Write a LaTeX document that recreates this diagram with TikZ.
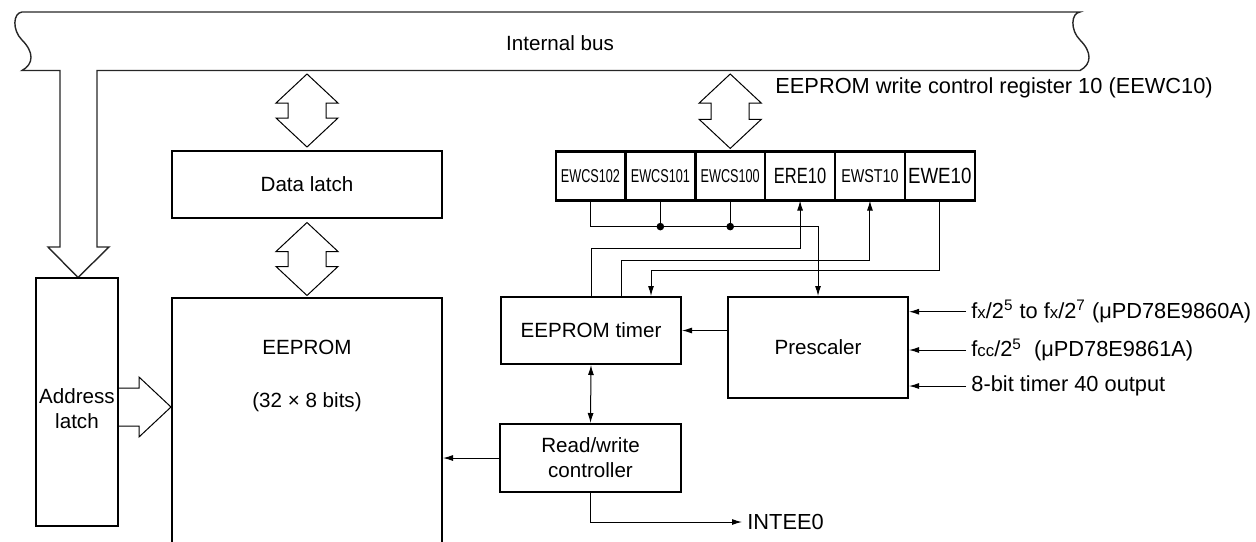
\documentclass[tikz,border=0pt]{standalone}
\usepackage{fontspec}
\setmainfont{Liberation Sans}
\usepackage{graphicx}
\usetikzlibrary{arrows.meta,positioning,calc}

\newcommand{\regtxt}[3]{\fontsize{#2}{#2}\selectfont\scalebox{#1}[1]{#3}}
\newcommand{\smallx}[1]{{\fontsize{8.4}{9}\selectfont #1}}
% hollow two-way bus arrow between two tips
\newcommand{\busarrow}[2]{%
  \draw[hollow] (#1) -- ($(#1)+(-31,29)$) -- ($(#1)+(-19,29)$) -- ($(#2)+(-19,-29)$)
    -- ($(#2)+(-31,-29)$) -- (#2) -- ($(#2)+(31,-29)$) -- ($(#2)+(19,-29)$)
    -- ($(#1)+(19,29)$) -- ($(#1)+(31,29)$) -- cycle;}

\begin{document}
\begin{tikzpicture}[x=0.5pt, y=-0.5pt,
    font=\fontsize{10.3}{12.4}\selectfont,
    block/.style={rectangle, draw, line width=1pt, inner sep=0pt, align=center},
    cell/.style={rectangle, draw, line width=0.6pt, minimum width=34.33pt, minimum height=24pt, inner sep=0pt},
    line/.style={draw, -{Latex[length=5pt,width=3pt]}, line width=0.5pt},
    wire/.style={draw, line width=0.5pt},
    hollow/.style={draw, line width=0.5pt},
    tag/.style={inner sep=0pt, anchor=west, font=\fontsize{10.9}{13}\selectfont}
]
\useasboundingbox (0,0) rectangle (1256,541);
\clip (0,0) rectangle (1256,541);

% internal bus with the address path
\draw[line width=0.7pt, black!85] (22,12) -- (1080,12)
  .. controls (1071,13) and (1070,30) .. (1080,40)
  .. controls (1092,52) and (1092,64) .. (1080,70.5)
  -- (97,70.5) -- (97,247) -- (109,247) -- (78,277.5) -- (48,247) -- (60,247) -- (60,70.5) -- (22,70.5)
  .. controls (34,64) and (34,52) .. (22,40)
  .. controls (12,30) and (13,13) .. (22,12) -- cycle;
\coordinate (busb) at (0,70.5);
\node (bus) at (560,43) {Internal bus};

% blocks
\node[block, minimum width=41pt, minimum height=124pt] (addr) at (77,402) {};
\node[align=center] (addrtxt) at (77,409) {Address\\latch};
\node[block, minimum width=135pt, minimum height=33.5pt] (dl) at (307,184.5) {Data latch};
\node[block, minimum width=135pt, minimum height=151.25pt] (eep) at (307,448.75) {};
\node[align=center] (eeptxt) at (307,376) {EEPROM\\[14pt](32 × 8 bits)};
\node[block, minimum width=90pt, minimum height=33.5pt] (tim) at (591,330.5) {EEPROM timer};
\node[block, minimum width=90pt, minimum height=50.5pt] (pre) at (818,347.5) {Prescaler};
\node[block, minimum width=90.5pt, minimum height=34pt] (rw) at (590.5,458) {Read/write\\controller};

% register EEWC10
\node[cell] (r1) at (590.5,176) {\regtxt{0.68}{9.3}{EWCS102}};
\node[cell, right=0pt of r1] (r2) {\regtxt{0.68}{9.3}{EWCS101}};
\node[cell, right=0pt of r2] (r3) {\regtxt{0.68}{9.3}{EWCS100}};
\node[cell, right=0pt of r3] (r4) {\regtxt{0.75}{11}{ERE10}};
\node[cell, right=0pt of r4] (r5) {\regtxt{0.77}{9.3}{EWST10}};
\node[cell, right=0pt of r5] (r6) {\regtxt{0.85}{11}{EWE10}};
\draw[line width=1pt] (r1.north west) rectangle (r6.south east);
\node[tag] (reglbl) at (775,88) {EEPROM write control register 10 (EEWC10)};

% hollow bus arrows
\coordinate (a1t) at ($(dl.north |- busb)+(0,3.5)$);
\coordinate (a1b) at ($(dl.north)+(0,-3)$);
\busarrow{a1t}{a1b}
\coordinate (a2t) at ($(dl.south)+(0,3.5)$);
\coordinate (a2b) at ($(eep.north)+(0,-1)$);
\busarrow{a2t}{a2b}
\coordinate (a3t) at ($(r3.north |- busb)+(0,3.5)$);
\coordinate (a3b) at ($(r3.north)+(0,-3)$);
\busarrow{a3t}{a3b}
\coordinate (adtip) at (171,407);
\draw[hollow] ($(adtip -| addr.east)+(0,-19)$) -- ($(adtip)+(-32,-19)$) -- ($(adtip)+(-32,-30)$)
  -- (adtip) -- ($(adtip)+(-32,30)$) -- ($(adtip)+(-32,19)$) -- ($(adtip -| addr.east)+(0,19)$);

% register bits
\coordinate (sel) at ($(r1.south)+(0,26)$);
\draw[line] (r1.south) |- (sel -| pre.north) -- (pre.north);
\draw[wire] (r2.south) -- (r2.south |- sel);
\draw[wire] (r3.south) -- (r3.south |- sel);
\fill (r2.south |- sel) circle (1.9pt);
\fill (r3.south |- sel) circle (1.9pt);
\draw[line] (tim.north) |- ($(r4.south)+(0,48)$) -- (r4.south);
\draw[line] ($(tim.north)+(30,0)$) |- ($(r5.south)+(0,60)$) -- (r5.south);
\draw[line] (r6.south) |- ($(tim.north)+(60,-26)$) -- ($(tim.north)+(60,0)$);

% timer, controller
\draw[line] (pre.west |- tim.east) -- (tim.east);
\draw[line, {Latex[length=5pt,width=3pt]}-{Latex[length=5pt,width=3pt]}] (tim.south) -- (rw.north);
\draw[line] (rw.west) -- (rw.west -| eep.east);
\node[tag, inner sep=2.5pt] (intee) at (742,522) {INTEE0};
\draw[line] (rw.south) |- (intee.west);

% clock inputs
\node[tag, inner sep=2.5pt] (fx) at (966,311.7) {f\smallx{x}/2\textsuperscript{5} to f\smallx{x}/2\textsuperscript{7} (μPD78E9860A)};
\node[tag, inner sep=2.5pt] (fcc) at (966,350) {f\smallx{cc}/2\textsuperscript{5}\ \ (μPD78E9861A)};
\node[tag, inner sep=2.5pt] (t40) at (966,386) {8-bit timer 40 output};
\draw[line] (fx.west) -- (fx.west -| pre.east);
\draw[line] (fcc.west) -- (fcc.west -| pre.east);
\draw[line] (t40.west) -- (t40.west -| pre.east);
\end{tikzpicture}
\end{document}
